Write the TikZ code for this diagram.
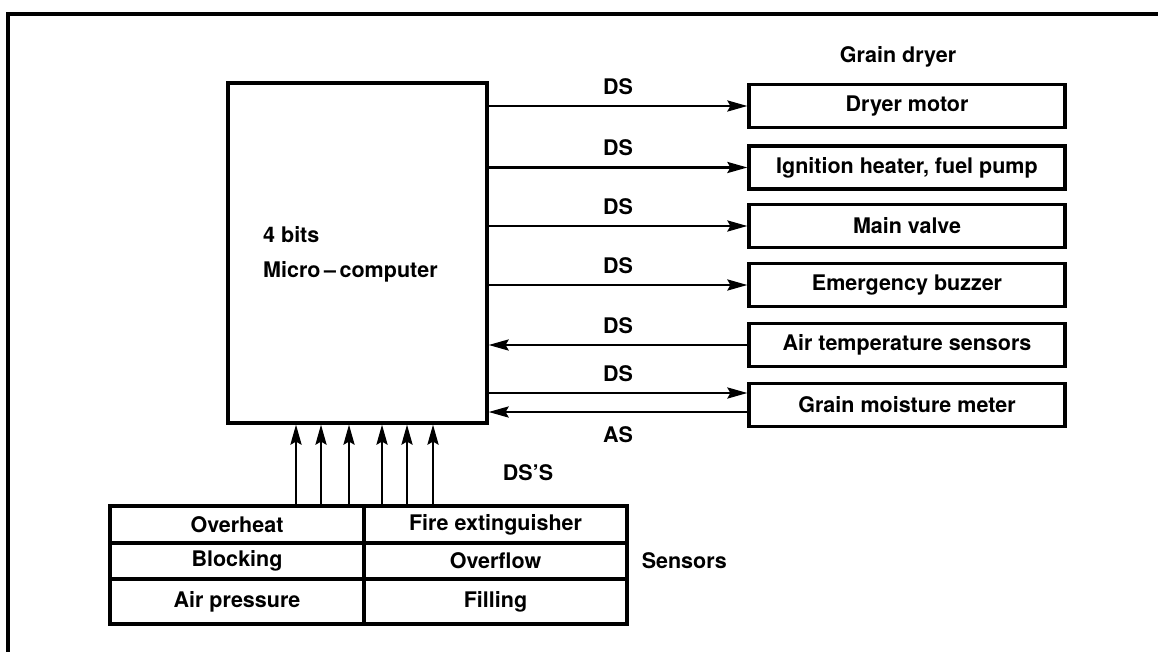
\documentclass[tikz,border=0pt]{standalone}
\usepackage{fontspec}
\setmainfont{TeX Gyre Heros}
\usetikzlibrary{arrows.meta}
\begin{document}
\begin{tikzpicture}[x=1pt,y=-1pt,
  every node/.style={font=\fontsize{21.5}{25}\selectfont\bfseries},
  box/.style={draw, line width=3.2pt, inner sep=0pt},
  rbox/.style={box, minimum width=316pt, minimum height=43pt},
  lcell/.style={box, minimum width=254pt, minimum height=#1},
  rcell/.style={box, minimum width=263pt, minimum height=#1},
  sig/.style={line width=2.6pt, -{Stealth[length=20pt,width=11pt,inset=3pt]}},
  lab/.style={inner sep=0pt},
  frame/.style={line width=3.4pt}]
\useasboundingbox (0,0) rectangle (1158,652);
% outer frame (only top and left edges visible)
\draw[frame] (8,652) -- (8,14) -- (1158,14);

% micro-computer
\node[box, minimum width=259pt, minimum height=340pt] (micro) at (357.5,253) {};
\node[lab, anchor=west, align=left, font=\fontsize{21.5}{35}\selectfont\bfseries] (mtext) at (263,254.5) {4 bits\\Micro\,--\,computer};

% grain dryer boxes
\node[lab] (gd) at (898,57) {Grain dryer};
\node[rbox] (dm) at (907,106) {Dryer motor};
\node[rbox] (ig) at (907,167.5) {Ignition heater, fuel pump};
\node[rbox] (mv) at (907,226) {Main valve};
\node[rbox] (eb) at (907,285) {Emergency buzzer};
\node[rbox] (at) at (907,345) {Air temperature sensors};
\node[rbox] (gm) at (907,405) {Grain moisture meter};

\foreach \b in {dm,ig,mv,eb}
  \draw[sig] (micro.east |- \b.west) -- node[lab, above=10pt] {DS} (\b.west);
\draw[sig] (at.west) -- node[lab, above=10pt] {DS} (micro.east |- at.west);
\coordinate (gmin) at ([yshift=12pt]gm.west);
\coordinate (gmout) at ([yshift=-7pt]gm.west);
\draw[sig] (micro.east |- gmin) -- node[lab, above=10pt] {DS} (gmin);
\draw[sig] (gmout) -- node[lab, below=13pt] {AS} (micro.east |- gmout);

% sensors table
\node[lcell=37pt] (c11) at (237,524.5) {Overheat};
\node[rcell=37pt] (c12) at (495.5,524.5) {Fire extinguisher};
\node[lcell=36pt] (c21) at (237,561) {Blocking};
\node[rcell=36pt] (c22) at (495.5,561) {Overflow};
\node[lcell=45pt] (c31) at (237,601.5) {Air pressure};
\node[rcell=45pt] (c32) at (495.5,601.5) {Filling};
\node[lab, anchor=west] (sens) at ([xshift=13pt]c22.east) {Sensors};
\node[lab] (dss) at (528,473) {DS'S};

\foreach \dx [count=\i] in {59,84,112} {
  \coordinate (l\i) at ([xshift=\dx pt]c11.north);
  \draw[sig] (l\i) -- (l\i |- micro.south);
}
\foreach \dx [count=\i] in {-113.5,-88.5,-62.5} {
  \coordinate (r\i) at ([xshift=\dx pt]c12.north);
  \draw[sig] (r\i) -- (r\i |- micro.south);
}
\end{tikzpicture}
\end{document}
